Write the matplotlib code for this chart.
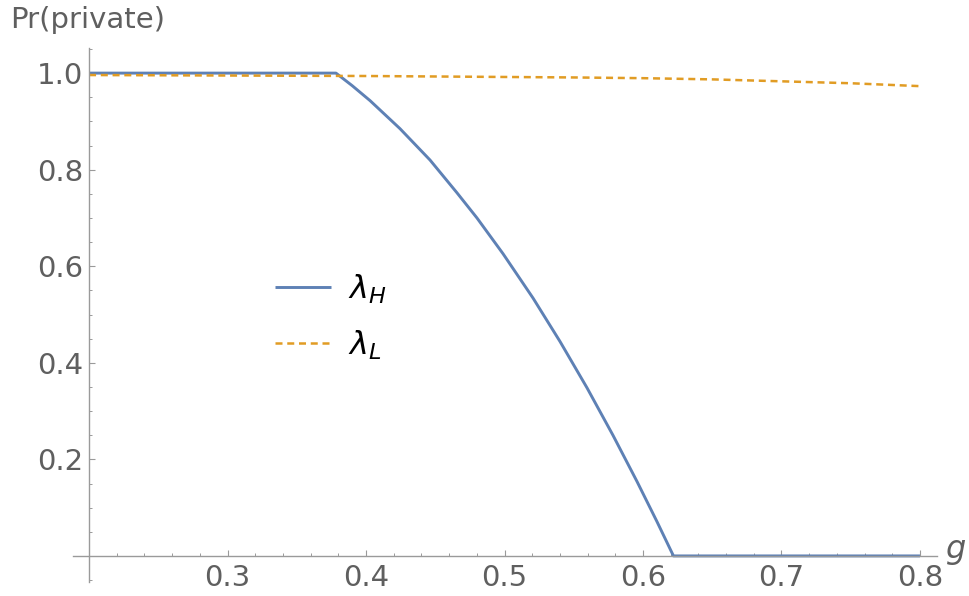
import matplotlib
matplotlib.use("Agg")
import matplotlib.pyplot as plt
from matplotlib.ticker import MultipleLocator, FixedLocator

# Data
g_high = [0.2, 0.3783, 0.39, 0.4029, 0.4245, 0.4462, 0.4657, 0.4801, 0.4989, 0.5206,
          0.5401, 0.5596, 0.5783, 0.5957, 0.6101, 0.6220, 0.7, 0.8]
pr_high = [1.0, 1.0, 0.974, 0.943, 0.885, 0.820, 0.752, 0.700, 0.626, 0.534,
           0.444, 0.348, 0.250, 0.154, 0.071, 0.0, 0.0, 0.0]
g_low = [0.2, 0.3, 0.4, 0.5, 0.55, 0.6, 0.65, 0.7, 0.75, 0.8]
pr_low = [0.996, 0.995, 0.994, 0.992, 0.991, 0.9895, 0.987, 0.983, 0.979, 0.973]
x_ticks = [0.3, 0.4, 0.5, 0.6, 0.7, 0.8]
x_tick_labels = ["0.3", "0.4", "0.5", "0.6", "0.7", "0.8"]
y_ticks = [0.2, 0.4, 0.6, 0.8, 1.0]
y_tick_labels = ["0.2", "0.4", "0.6", "0.8", "1.0"]
series_labels = [r"$\lambda_H$", r"$\lambda_L$"]

plt.rcParams['font.family'] = ['DejaVu Sans']
plt.rcParams['mathtext.fontset'] = 'dejavusans'

W, H = 969, 596
fig = plt.figure(figsize=(W / 100, H / 100), dpi=100)
left, right, top, bottom = 73, 937, 48, 582
ax = fig.add_axes([left / W, 1 - bottom / H, (right - left) / W, (bottom - top) / H])

blue = "#5E81B5"
orange = "#E19C24"
ax.plot(g_high, pr_high, color=blue, lw=2.1, label=series_labels[0],
        solid_capstyle='butt', solid_joinstyle='round')
ax.plot(g_low, pr_low, color=orange, lw=1.8, dashes=(2.8, 1.9), label=series_labels[1])

ax.set_xlim(0.1884, 0.8123)
ax.set_ylim(-0.054, 1.052)

axis_col = "#9a9a9a"
for s in ["top", "right"]:
    ax.spines[s].set_visible(False)
ax.spines["left"].set_position(("data", 0.2))
ax.spines["bottom"].set_position(("data", 0.0))
for s in ["left", "bottom"]:
    ax.spines[s].set_color(axis_col)
    ax.spines[s].set_linewidth(1.0)

ax.xaxis.set_major_locator(FixedLocator(x_ticks))
ax.set_xticklabels(x_tick_labels)
ax.xaxis.set_minor_locator(MultipleLocator(0.02))
ax.yaxis.set_major_locator(FixedLocator(y_ticks))
ax.set_yticklabels(y_tick_labels)
ax.yaxis.set_minor_locator(MultipleLocator(0.05))

lab_col = "#5f5f5f"
ax.tick_params(axis='both', which='major', direction='in', length=4.5, width=0.8,
               color=axis_col, labelsize=21, labelcolor=lab_col)
ax.tick_params(axis='both', which='minor', direction='in', length=2.5, width=0.7,
               color=axis_col)
ax.tick_params(axis='x', which='major', pad=6)
ax.tick_params(axis='y', which='major', pad=4)

fig.text(10 / W, 1 - 20 / H, "Pr(private)", fontsize=21, color=lab_col,
         ha='left', va='center')
fig.text(946 / W, 1 - 558 / H, "g", fontsize=23, color=lab_col, style='italic',
         ha='left', va='baseline')

leg = ax.legend(loc='center left', bbox_to_anchor=(275 / W, 1 - 317 / H),
                bbox_transform=fig.transFigure, frameon=False, fontsize=23,
                handlelength=1.75, handletextpad=0.55, labelspacing=0.7,
                borderpad=0, borderaxespad=0)

fig.savefig("out.png", dpi=100)
